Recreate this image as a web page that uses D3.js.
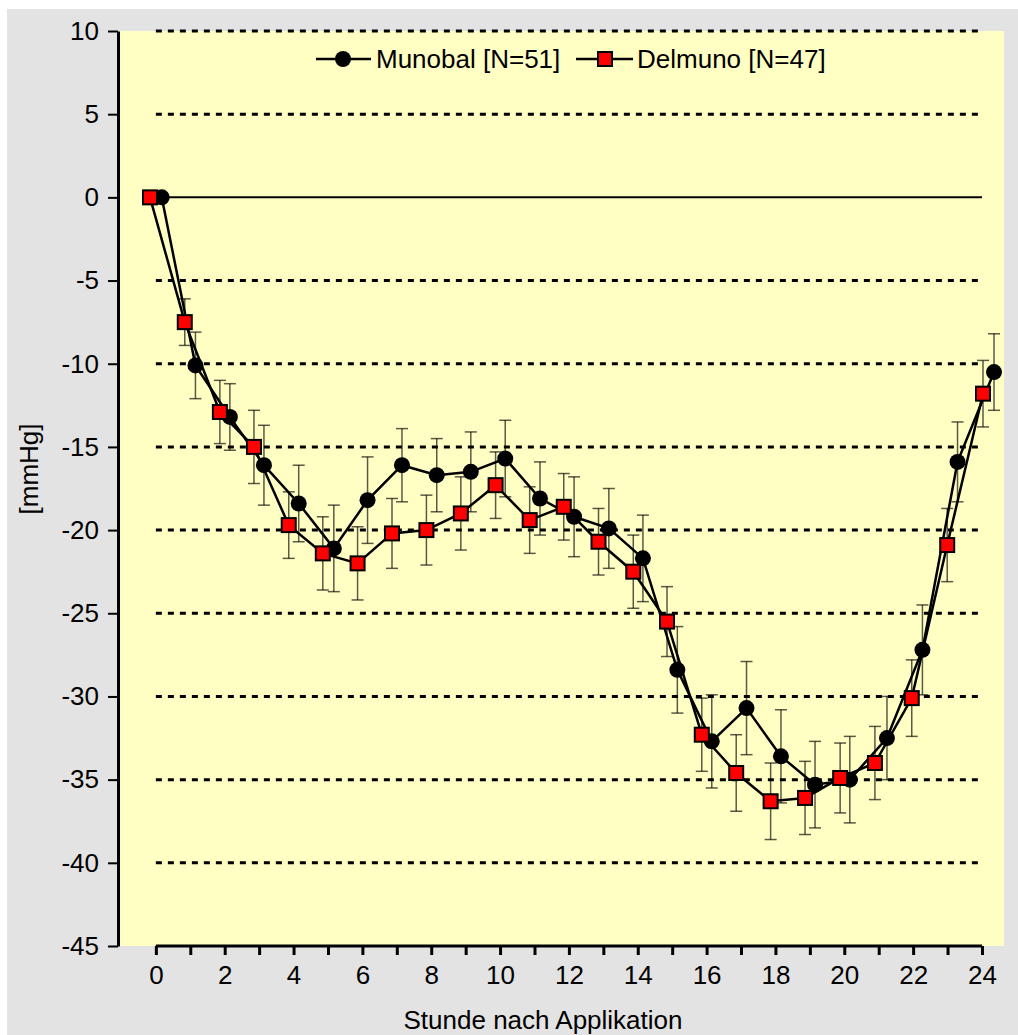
<!DOCTYPE html>
<html>
<head>
<meta charset="utf-8">
<script src="https://cdn.jsdelivr.net/npm/d3@7"></script>
<style>
  body { margin: 0; background: #fff; }
  text { font-family: "Liberation Sans", Arial, sans-serif; fill: #000; }
</style>
</head>
<body>
<svg id="chart" width="1018" height="1035"></svg>
<script>
// hour categories shown on the x axis
const hours = d3.range(0, 25);
const yTicks = d3.range(-45, 11, 5);

// Munobal [N=51] - plotted slightly right of each hour
const munobalHours = [0.17, 1.15, 2.15, 3.14, 4.15, 5.17, 6.15, 7.15, 8.16, 9.15, 10.15, 11.16, 12.15,
                      13.16, 14.15, 15.15, 16.15, 17.16, 18.16, 19.15, 20.16, 21.24, 22.27, 23.29, 24.35];
const munobalValues = [0, -10.1, -13.2, -16.1, -18.4, -21.1, -18.2, -16.1, -16.7, -16.5, -15.7, -18.1, -19.2,
                       -19.9, -21.7, -28.4, -32.7, -30.7, -33.6, -35.3, -35.0, -32.5, -27.2, -15.9, -10.5];
const munobalErr = [0, 2.0, 2.0, 2.4, 2.3, 2.6, 2.6, 2.2, 2.2, 2.4, 2.3, 2.2, 2.4,
                    2.4, 2.6, 2.6, 2.8, 2.8, 2.8, 2.6, 2.6, 2.5, 2.7, 2.4, 2.3];

// Delmuno [N=47] - plotted slightly left of each hour
const delmunoHours = [-0.17, 0.84, 1.86, 2.85, 3.86, 4.85, 5.86, 6.86, 7.86, 8.86, 9.87, 10.86, 11.85,
                      12.86, 13.87, 14.85, 15.86, 16.86, 17.86, 18.86, 19.88, 20.89, 21.96, 22.99, 24.03];
const delmunoValues = [0, -7.5, -12.9, -15.0, -19.7, -21.4, -22.0, -20.2, -20.0, -19.0, -17.3, -19.4, -18.6,
                       -20.7, -22.5, -25.5, -32.3, -34.6, -36.3, -36.1, -34.9, -34.0, -30.1, -20.9, -11.8];
const delmunoErr = [0, 1.4, 1.9, 2.2, 2.0, 2.2, 2.2, 2.1, 2.1, 2.2, 2.0, 2.0, 2.0,
                    2.0, 2.2, 2.1, 2.2, 2.3, 2.3, 2.2, 2.1, 2.2, 2.3, 2.2, 2.0];

const seriesNames = ["Munobal [N=51]", "Delmuno [N=47]"];

const svg = d3.select("#chart");

const plotLeft = 118, plotRight = 1004, plotTop = 31, plotBottom = 946;
const fontSize = "26px";

const x = d3.scaleLinear().domain([-1.1, 24.64]).range([plotLeft, plotRight]);
const y = d3.scaleLinear().domain([-45, 10]).range([plotBottom, plotTop]);

// outer grey area and plot area
svg.append("rect").attr("x", 7).attr("y", 9).attr("width", 1011).attr("height", 1026).attr("fill", "#e3e3e3");
svg.append("rect").attr("x", plotLeft).attr("y", plotTop)
  .attr("width", plotRight - plotLeft).attr("height", plotBottom - plotTop).attr("fill", "#ffffc4");

// dotted grid lines
svg.append("g")
  .selectAll("line")
  .data(yTicks.filter(d => d !== 0 && d !== -45))
  .enter()
  .append("line")
  .attr("x1", x(0)).attr("x2", x(24))
  .attr("y1", d => y(d)).attr("y2", d => y(d))
  .attr("stroke", "#000")
  .attr("stroke-width", 3)
  .attr("stroke-dasharray", "6,6");

// zero line
svg.append("line")
  .attr("x1", x(0)).attr("x2", x(24))
  .attr("y1", y(0)).attr("y2", y(0))
  .attr("stroke", "#000").attr("stroke-width", 2);

// y axis
const yAxis = svg.append("g")
  .attr("transform", "translate(" + plotLeft + ",0)")
  .call(d3.axisLeft(y).tickValues(yTicks).tickSize(10).tickSizeOuter(0).tickPadding(9)
          .tickFormat(d => String(d)));
yAxis.select(".domain").attr("stroke-width", 3);
yAxis.selectAll(".tick line").attr("stroke-width", 2);
yAxis.selectAll("text").style("font-size", fontSize);

// x axis: only from hour 0 to hour 24
const xAxis = svg.append("g")
  .attr("transform", "translate(0," + plotBottom + ")")
  .call(d3.axisBottom(x).tickValues(hours).tickSize(9).tickSizeOuter(0).tickPadding(11)
          .tickFormat(d => d % 2 === 0 ? d : ""));
xAxis.select(".domain").remove();
xAxis.append("line").attr("x1", x(0)).attr("x2", x(24)).attr("stroke", "#000").attr("stroke-width", 3);
xAxis.selectAll(".tick line").attr("stroke-width", 3);
xAxis.selectAll("text").style("font-size", fontSize);

// axis titles
svg.append("text")
  .text("Stunde nach Applikation")
  .attr("x", 543).attr("y", 1029)
  .attr("text-anchor", "middle")
  .style("font-size", fontSize);

svg.append("text")
  .text("[mmHg]")
  .attr("transform", "translate(38,469) rotate(-90)")
  .attr("text-anchor", "middle")
  .style("font-size", fontSize);

function drawSeries(hrs, vals, errs, marker) {
  const pts = hrs.map((h, i) => ({h: h, v: vals[i], e: errs[i]}));
  const g = svg.append("g");

  // error bars
  const eb = g.append("g").attr("stroke", "#000").attr("stroke-opacity", 0.65).attr("stroke-width", 1.5);
  pts.filter(d => d.e > 0).forEach(d => {
    const cx = x(d.h);
    eb.append("line").attr("x1", cx).attr("x2", cx).attr("y1", y(d.v + d.e)).attr("y2", y(d.v - d.e));
    eb.append("line").attr("x1", cx - 6).attr("x2", cx + 6).attr("y1", y(d.v + d.e)).attr("y2", y(d.v + d.e));
    eb.append("line").attr("x1", cx - 6).attr("x2", cx + 6).attr("y1", y(d.v - d.e)).attr("y2", y(d.v - d.e));
  });

  g.append("path")
    .datum(pts)
    .attr("fill", "none")
    .attr("stroke", "#000")
    .attr("stroke-width", 2.5)
    .attr("d", d3.line().x(d => x(d.h)).y(d => y(d.v)));

  if (marker === "circle") {
    g.selectAll("circle").data(pts).enter().append("circle")
      .attr("cx", d => x(d.h)).attr("cy", d => y(d.v)).attr("r", 8).attr("fill", "#000");
  } else {
    g.selectAll("rect").data(pts).enter().append("rect")
      .attr("x", d => x(d.h) - 7).attr("y", d => y(d.v) - 7)
      .attr("width", 14).attr("height", 14)
      .attr("fill", "#ff0000").attr("stroke", "#000").attr("stroke-width", 2);
  }
}

drawSeries(munobalHours, munobalValues, munobalErr, "circle");
drawSeries(delmunoHours, delmunoValues, delmunoErr, "square");

// legend
const legY = 59;
const leg1 = svg.append("g").attr("transform", "translate(316," + legY + ")");
leg1.append("line").attr("x1", 0).attr("x2", 55).attr("stroke", "#000").attr("stroke-width", 2.5);
leg1.append("circle").attr("cx", 27).attr("r", 8).attr("fill", "#000");
leg1.append("text").text(seriesNames[0]).attr("x", 60).attr("y", 9).style("font-size", fontSize);

const leg2 = svg.append("g").attr("transform", "translate(576," + legY + ")");
leg2.append("line").attr("x1", 0).attr("x2", 57).attr("stroke", "#000").attr("stroke-width", 2.5);
leg2.append("rect").attr("x", 22).attr("y", -7).attr("width", 14).attr("height", 14)
  .attr("fill", "#ff0000").attr("stroke", "#000").attr("stroke-width", 2);
leg2.append("text").text(seriesNames[1]).attr("x", 61).attr("y", 9).style("font-size", fontSize);
</script>
</body>
</html>
